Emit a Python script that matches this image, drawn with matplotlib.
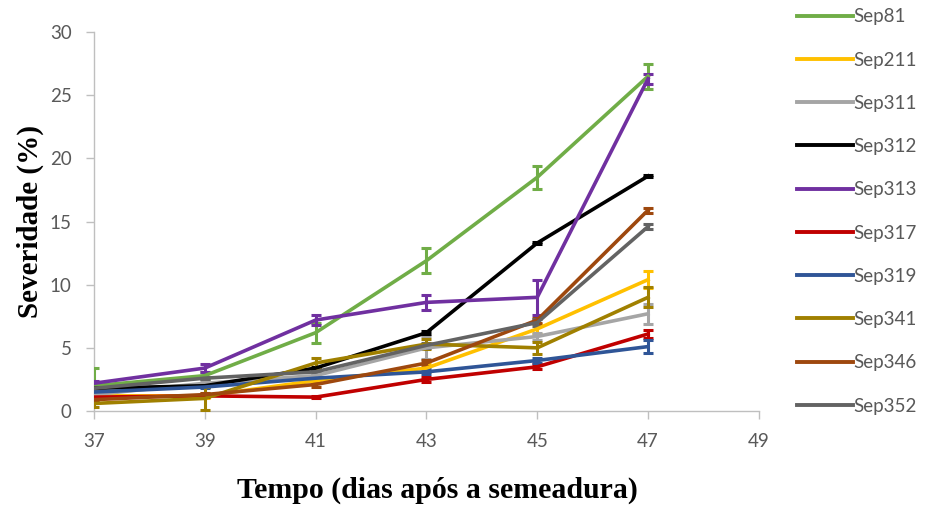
import matplotlib
matplotlib.use("Agg")
import matplotlib.pyplot as plt

# Days after sowing
days = [37, 39, 41, 43, 45, 47]

# Disease severity (%) per genotype
sep81 = [2.0, 2.8, 6.2, 11.9, 18.5, 26.5]
sep211 = [1.2, 1.2, 2.4, 3.4, 6.5, 10.4]
sep311 = [1.3, 2.2, 2.8, 5.0, 5.9, 7.7]
sep312 = [1.8, 2.0, 3.4, 6.2, 13.3, 18.6]
sep313 = [2.2, 3.4, 7.2, 8.6, 9.0, 26.3]
sep317 = [1.1, 1.2, 1.1, 2.5, 3.5, 6.1]
sep319 = [1.5, 1.9, 2.6, 3.1, 4.0, 5.1]
sep341 = [0.6, 1.0, 3.8, 5.3, 5.0, 9.0]
sep346 = [0.9, 1.3, 2.1, 3.8, 7.2, 15.9]
sep352 = [1.8, 2.6, 3.1, 5.2, 7.0, 14.6]

# Standard error of each mean
err81 = [1.4, 0.3, 0.8, 1.0, 0.9, 1.0]
err211 = [0.2, 0.2, 0.2, 0.3, 0.4, 0.7]
err311 = [0.2, 0.2, 0.2, 0.9, 0.3, 0.8]
err312 = [0.1, 0.1, 0.1, 0.1, 0.1, 0.1]
err313 = [0.2, 0.3, 0.4, 0.6, 1.4, 0.4]
err317 = [0.1, 0.1, 0.1, 0.2, 0.2, 0.3]
err319 = [0.1, 0.1, 0.1, 0.2, 0.2, 0.5]
err341 = [0.3, 0.9, 0.4, 0.4, 0.5, 0.8]
err346 = [0.1, 0.1, 0.2, 0.2, 0.2, 0.2]
err352 = [0.1, 0.1, 0.1, 0.2, 0.3, 0.2]

labels = ["Sep81", "Sep211", "Sep311", "Sep312", "Sep313",
          "Sep317", "Sep319", "Sep341", "Sep346", "Sep352"]
series = [sep81, sep211, sep311, sep312, sep313,
          sep317, sep319, sep341, sep346, sep352]
errors = [err81, err211, err311, err312, err313,
          err317, err319, err341, err346, err352]
colors = ["#70AD47", "#FFC000", "#A5A5A5", "#000000", "#7030A0",
          "#C00000", "#2F5597", "#A08000", "#9E480E", "#636363"]

fig = plt.figure(figsize=(9.26, 5.07), dpi=100)
ax = fig.add_axes([0.1015, 0.1893, 0.718, 0.7475])

for y, e, c, lab in zip(series, errors, colors, labels):
    ax.errorbar(days, y, yerr=e, color=c, lw=2.6, elinewidth=2.2,
                capsize=3.5, capthick=2.2, label=lab, zorder=3)

ax.set_xlim(37, 49)
ax.set_ylim(0, 30)
ax.set_xticks(range(37, 50, 2))
ax.set_yticks(range(0, 31, 5))

for t in ax.get_xticklabels() + ax.get_yticklabels():
    t.set_fontfamily("Lato")
    t.set_fontsize(13.5)
    t.set_color("#595959")

for s in ["top", "right"]:
    ax.spines[s].set_visible(False)
for s in ["left", "bottom"]:
    ax.spines[s].set_color("#BFBFBF")
    ax.spines[s].set_linewidth(1.0)
ax.tick_params(axis="both", direction="out", length=6, width=1.0,
               color="#BFBFBF")
ax.tick_params(axis="x", pad=10)
ax.tick_params(axis="y", pad=10)

ax.set_xlabel("Tempo (dias após a semeadura)", family="Liberation Serif",
              fontweight="bold", fontsize=21.5)
ax.xaxis.set_label_coords(0.516, -0.172)
ax.set_ylabel("Severidade (%)", family="Liberation Serif",
              fontweight="bold", fontsize=21, labelpad=4)

leg = fig.legend(handles=[plt.Line2D([], [], color=c, lw=2.8) for c in colors],
                 labels=labels, loc="upper left",
                 bbox_to_anchor=(0.842, 1.017), frameon=False,
                 handlelength=3.0, handletextpad=0.05, labelspacing=1.4,
                 prop={"family": "Lato", "size": 13.5})
for t in leg.get_texts():
    t.set_color("#595959")

fig.savefig("out.png", dpi=100, facecolor="white")
